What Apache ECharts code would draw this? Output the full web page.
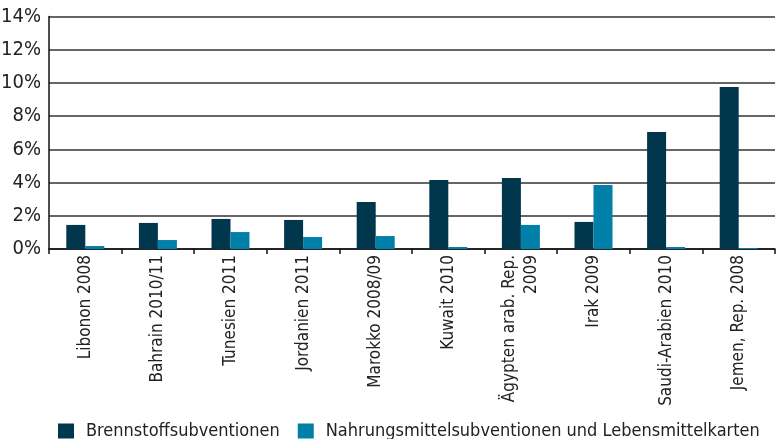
<!DOCTYPE html>
<html>
<head>
<meta charset="utf-8">
<script src="https://cdn.jsdelivr.net/npm/echarts@6/dist/echarts.min.js"></script>
<style>
  html, body { margin: 0; padding: 0; background: #fff; }
  #chart { width: 776px; height: 439px; }
</style>
</head>
<body>
<div id="chart"></div>
<script>
var categories = ['Libonon 2008', 'Bahrain 2010/11', 'Tunesien 2011', 'Jordanien 2011', 'Marokko 2008/09',
    'Kuwait 2010', 'Ägypten arab. Rep.\n2009', 'Irak 2009', 'Saudi-Arabien 2010', 'Jemen, Rep. 2008'];
var fuel = [1.45, 1.57, 1.81, 1.75, 2.83, 4.16, 4.28, 1.63, 7.05, 9.76]; // Brennstoff
var food = [0.18, 0.54, 1.02, 0.72, 0.78, 0.12, 1.45, 3.86, 0.12, 0.06]; // Nahrung
var names = ['Brennstoffsubventionen', 'Nahrungsmittelsubventionen und Lebensmittelkarten'];
var colors = ['#01374d', '#007fa9'];
var font = '"DejaVu Sans Condensed", "Liberation Sans Narrow", sans-serif';

var myChart = echarts.init(document.getElementById('chart'));
var option = {
    color: colors,
    animation: false,
    textStyle: { fontFamily: font },
    grid: { left: 49, right: 1, top: 16.5, bottom: 190, containLabel: false, outerBoundsMode: 'none' },
    legend: {
        data: names,
        icon: 'rect',
        left: 53,
        top: 417,
        itemWidth: 16,
        itemHeight: 15,
        itemGap: 18,
        textStyle: { fontFamily: font, fontSize: 18, color: '#222', padding: [0, 0, 0, 7] }
    },
    xAxis: {
        type: 'category',
        data: categories,
        axisLine: { lineStyle: { color: '#111', width: 1.5 } },
        axisTick: { show: true, alignWithLabel: false, length: 5, lineStyle: { color: '#111', width: 1.5 } },
        axisLabel: {
            rotate: 90,
            interval: 0,
            margin: 6,
            fontFamily: font,
            fontSize: 17,
            color: '#222',
            lineHeight: 22
        }
    },
    yAxis: {
        type: 'value',
        min: 0,
        max: 14,
        interval: 2,
        axisLine: { show: true, lineStyle: { color: '#111', width: 1.5 } },
        axisTick: { show: false },
        splitLine: { lineStyle: { color: '#333', width: 1.6 } },
        axisLabel: {
            formatter: '{value}%',
            margin: 8,
            fontFamily: font,
            fontSize: 20,
            color: '#222'
        }
    },
    series: [
        { name: names[0], type: 'bar', data: fuel, barWidth: 19, barGap: '0%' },
        { name: names[1], type: 'bar', data: food, barWidth: 19, barGap: '0%' }
    ]
};
myChart.setOption(option);
</script>
</body>
</html>
